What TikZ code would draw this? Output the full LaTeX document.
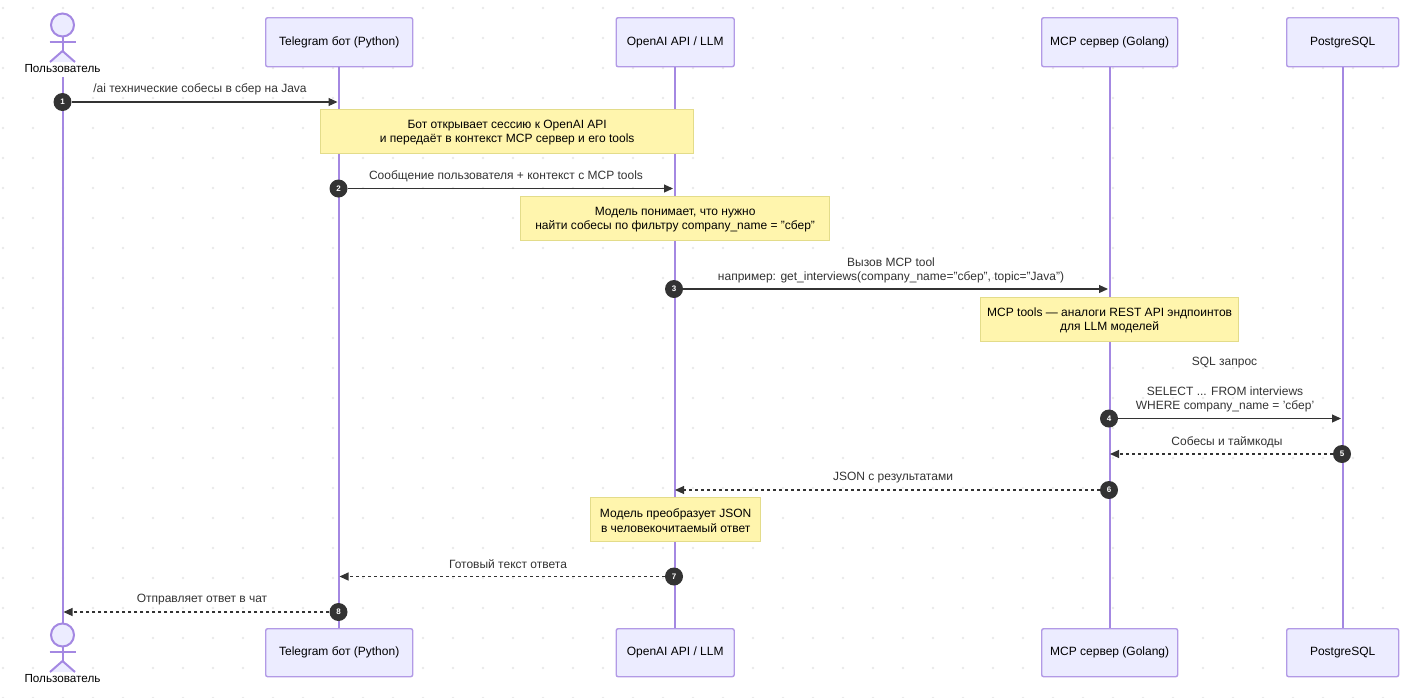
\documentclass[tikz,border=0pt]{standalone}
\usepackage{xcolor}
\usepackage{fontspec}
\usepackage{tikz}
\usetikzlibrary{arrows.meta}
\setmainfont{Liberation Sans}

\definecolor{actorfill}{HTML}{ECECFF}
\definecolor{actorline}{HTML}{A488E2}
\definecolor{notefill}{HTML}{FFF5AD}
\definecolor{noteline}{HTML}{E3DC8A}
\definecolor{msgline}{HTML}{333333}
\definecolor{griddot}{HTML}{E9E9E9}

\tikzset{
  actorbox/.style={draw=actorline!85, fill=actorfill, line width=1.4pt, rounded corners=2pt, inner sep=0pt, anchor=north west, text height=9pt, text depth=3pt, font=\fontsize{12}{14}\selectfont},
  notebox/.style={draw=noteline, fill=notefill, line width=1.3pt, inner sep=0pt, anchor=north west, align=center, text height=25.5pt, font=\fontsize{12}{14.5}\selectfont},
  stepdot/.style={circle, fill=msgline, text=white, inner sep=0pt, minimum size=18pt, font=\bfseries\fontsize{8}{8}\selectfont},
  msglabel/.style={text=msgline, inner sep=0pt, align=center, font=\fontsize{12}{14}\selectfont},
  userlabel/.style={inner sep=0pt, font=\fontsize{11.7}{14}\selectfont},
  lifeline/.style={actorline, line width=2pt},
  stick/.style={actorline, line width=2pt, fill=actorfill},
  msgsolid/.style={msgline, line width=1.1pt, -{Triangle[length=9pt,width=8pt]}},
  msgdash/.style={msgline, line width=1.1pt, dash pattern=on 3pt off 3pt, -{Triangle[length=9pt,width=8pt]}}
}

\begin{document}
\begin{tikzpicture}[x=1pt, y=-1pt]
  \useasboundingbox (0,0) rectangle (1409,697);
  % dotted background
  \foreach \px in {3,33,...,1413}
    \foreach \py in {8,38,...,698}
      \fill[griddot] (\px,\py) circle (1.4);

  % lifelines
  \coordinate (usertop) at (62.5,77);
  \coordinate (userbot) at (62.5,624);
  \node[actorbox, minimum width=147pt, minimum height=49pt] (tgtop) at (265,17) {Telegram бот (Python)};
  \node[actorbox, minimum width=118pt, minimum height=49pt] (llmtop) at (615.5,17) {OpenAI API / LLM};
  \node[actorbox, minimum width=136pt, minimum height=49pt] (mcptop) at (1041,17) {MCP сервер (Golang)};
  \node[actorbox, minimum width=112pt, minimum height=49pt] (pgtop) at (1286,17) {PostgreSQL};
  \node[actorbox, minimum width=147pt, minimum height=48pt] (tgbot) at (265,628) {Telegram бот (Python)};
  \node[actorbox, minimum width=118pt, minimum height=48pt] (llmbot) at (615.5,628) {OpenAI API / LLM};
  \node[actorbox, minimum width=136pt, minimum height=48pt] (mcpbot) at (1041,628) {MCP сервер (Golang)};
  \node[actorbox, minimum width=112pt, minimum height=48pt] (pgbot) at (1286,628) {PostgreSQL};
  \draw[lifeline] (usertop) -- (userbot);
  \draw[lifeline] (tgtop) -- (tgbot);
  \draw[lifeline] (llmtop) -- (llmbot);
  \draw[lifeline] (mcptop) -- (mcpbot);
  \draw[lifeline] (pgtop) -- (pgbot);

  % user on top
  \draw[stick] (62.5,25) circle (11.5);
  \draw[stick] (62.5,36.5) -- (62.5,51);
  \draw[stick] (49.5,42) -- (76,42);
  \draw[stick] (50,62) -- (62.5,51) -- (75,62);
  \node[userlabel] (usernametop) at (62.5,68.5) {Пользователь};
  % user on bottom
  \draw[stick] (62.5,635) circle (11.5);
  \draw[stick] (62.5,646.5) -- (62.5,661);
  \draw[stick] (49.5,652) -- (76,652);
  \draw[stick] (50,672) -- (62.5,661) -- (75,672);
  \node[userlabel] (usernamebot) at (62.5,678.5) {Пользователь};

  % notes
  \node[notebox, minimum width=373pt, minimum height=43.5pt] (note1) at (320,109) {Бот открывает сессию к OpenAI API\\и передаёт в контекст MCP сервер и его tools};
  \node[notebox, minimum width=309pt, minimum height=43.5pt] (note2) at (520,196) {Модель понимает, что нужно\\найти собесы по фильтру company\_name = "сбер"};
  \node[notebox, minimum width=258pt, minimum height=44pt] (note3) at (980,296.5) {MCP tools — аналоги REST API эндпоинтов\\для LLM моделей};
  \node[notebox, minimum width=170pt, minimum height=44pt] (note4) at (590,497) {Модель преобразует JSON\\в человекочитаемый ответ};

  % message ends
  \node[stepdot] (s1) at (62.5,102) {1};
  \node[stepdot] (s2) at (338.5,188.5) {2};
  \node[stepdot] (s3) at (674,289) {3};
  \node[stepdot] (s4) at (1109,418.5) {4};
  \node[stepdot] (s5) at (1342,454) {5};
  \node[stepdot] (s6) at (1109,490) {6};
  \node[stepdot] (s7) at (674,576.5) {7};
  \node[stepdot] (s8) at (338.5,612) {8};
  \coordinate (e1) at (337.5,102);
  \coordinate (e2) at (673,188.5);
  \coordinate (e3) at (1108,289);
  \coordinate (e4) at (1341,418.5);
  \coordinate (e5) at (1110,454);
  \coordinate (e6) at (675,490);
  \coordinate (e7) at (339.5,576.5);
  \coordinate (e8) at (63.5,612);

  % messages
  \draw[msgsolid] (s1) -- (e1);
  \draw[msgsolid] (s2) -- (e2);
  \draw[msgsolid] (s3) -- (e3);
  \draw[msgsolid] (s4) -- (e4);
  \draw[msgdash] (s5) -- (e5);
  \draw[msgdash] (s6) -- (e6);
  \draw[msgdash] (s7) -- (e7);
  \draw[msgdash] (s8) -- (e8);

  % message labels
  \node[msglabel] (t1) at (200,89) {/ai технические собесы в сбер на Java};
  \node[msglabel] (t2) at (506,176) {Сообщение пользователя + контекст с MCP tools};
  \node[msglabel] (t3) at (891,270) {Вызов MCP tool\\например: get\_interviews(company\_name="сбер", topic="Java")};
  \node[msglabel] (t4a) at (1224.5,363) {SQL запрос};
  \node[msglabel] (t4b) at (1225,399) {SELECT ... FROM interviews\\WHERE company\_name = 'сбер'};
  \node[msglabel] (t5) at (1227,442) {Собесы и таймкоды};
  \node[msglabel] (t6) at (893,478) {JSON с результатами};
  \node[msglabel] (t7) at (508,564) {Готовый текст ответа};
  \node[msglabel] (t8) at (202,600) {Отправляет ответ в чат};
\end{tikzpicture}
\end{document}
